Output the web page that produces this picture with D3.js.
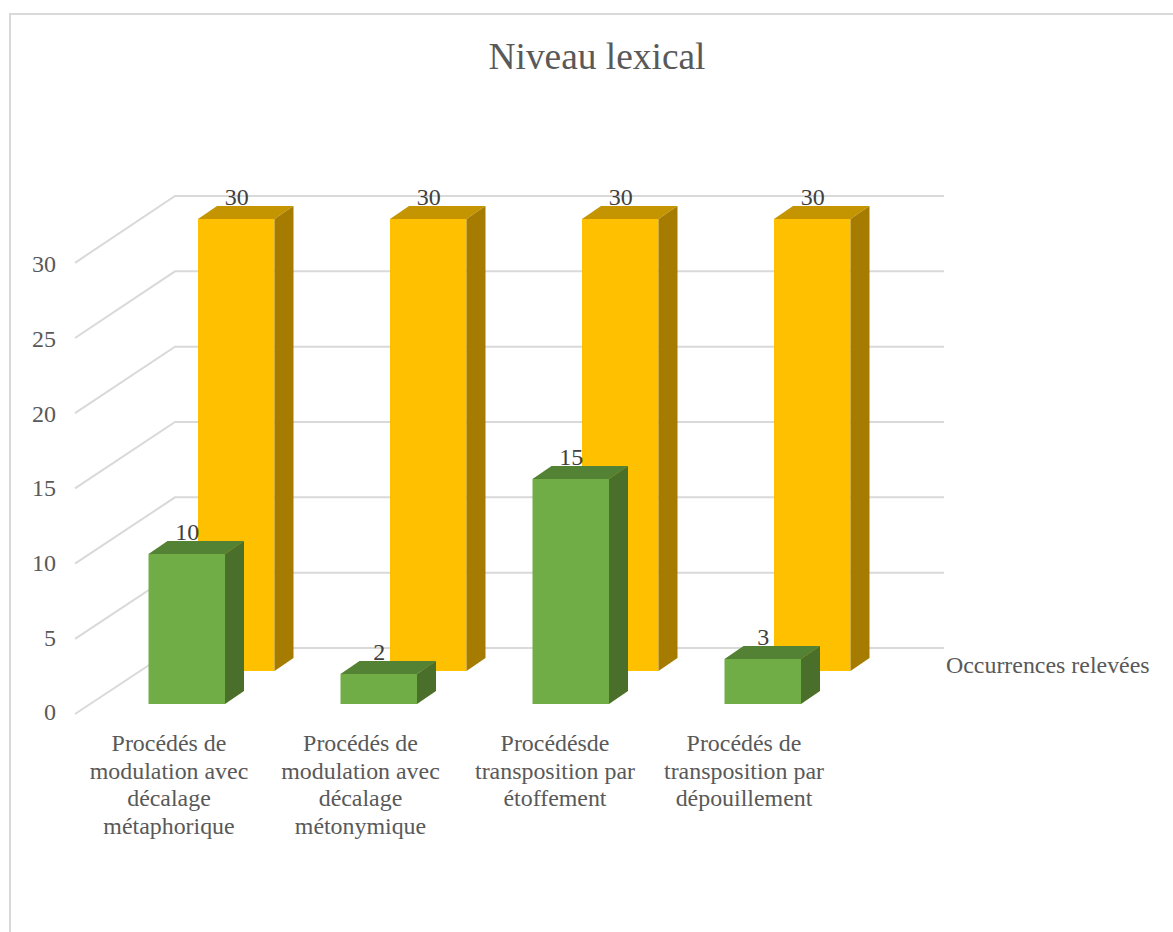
<!DOCTYPE html>
<html><head><meta charset="utf-8">
<script src="https://cdn.jsdelivr.net/npm/d3@7"></script>
<style>html,body{margin:0;padding:0;background:#fff}svg{display:block}text{font-family:"Liberation Serif",serif}</style>
</head><body><div id="c"></div>
<script>
const categories = [
  ["Procédés de","modulation avec","décalage","métaphorique"],
  ["Procédés de","modulation avec","décalage","métonymique"],
  ["Procédésde","transposition par","étoffement"],
  ["Procédés de","transposition par","dépouillement"]
];
const frontValues = [10, 2, 15, 3];
const backValues = [30, 30, 30, 30];
const yTicks = [0, 5, 10, 15, 20, 25, 30];
const titleText = "Niveau lexical";
const seriesName = "Occurrences relevées";

const W = 1173, H = 932;
const svg = d3.select("#c").append("svg").attr("width", W).attr("height", H);

// outer frame
svg.append("path").attr("d", "M10,932V14H1173").attr("fill","none").attr("stroke","#d9d9d9").attr("stroke-width",2);

svg.append("text").attr("x",597).attr("y",69).attr("text-anchor","middle")
  .attr("font-size",37.4).attr("fill","#595959").text(titleText);

const yFront = d3.scaleLinear().domain([0,30]).range([704,254]);   // front row base
const yBack = d3.scaleLinear().domain([0,30]).range([671,219]);
const dx = 19, dy = -13;           // bar depth offset
const yWallFront = d3.scaleLinear().domain([0,30]).range([714,262.8]);
const yWallBack = d3.scaleLinear().domain([0,30]).range([648,196]);
const wall = {xf:75, xb:175, xr:944};

// gridlines
svg.append("g").selectAll("path").data(yTicks).join("path")
  .attr("fill","none").attr("stroke","#d9d9d9").attr("stroke-width",2)
  .attr("d", t => `M${wall.xf},${yWallFront(t)}L${wall.xb},${yWallBack(t)}H${wall.xr}`);

// value axis labels
const axisScale = d3.scaleLinear().domain([0,30]).range([712,264]);
const axisG = svg.append("g").attr("transform","translate(56,0)")
  .call(d3.axisLeft(axisScale).tickValues(yTicks).tickSize(0).tickPadding(0).tickFormat(d3.format("d")));
axisG.select(".domain").remove();
axisG.selectAll("text").attr("font-size",24).attr("fill","#595959").style("font-family",'"Liberation Serif",serif');

const xBand = d3.scaleBand().domain(d3.range(4)).range([148.5,916.5]).paddingInner(0).paddingOuter(0);
const barW = 76.5;
const gap = 49.5;   // x offset of the back row from the front row

function bars(values, x0, y, front, top, side){
  const g = svg.append("g");
  const b = g.selectAll("g").data(values).join("g");
  const X = (d,i)=> xBand(i)+x0;
  b.append("rect").attr("x",X).attr("y",d=>y(d)).attr("width",barW).attr("height",d=>y(0)-y(d)).attr("fill",front);
  b.append("path").attr("fill",top).attr("d",(d,i)=>{const x=X(d,i),t=y(d);
    return `M${x},${t}l${dx},${dy}h${barW}l${-dx},${-dy}z`;});
  b.append("path").attr("fill",side).attr("d",(d,i)=>{const x=X(d,i)+barW,t=y(d);
    return `M${x},${t}l${dx},${dy}V${y(0)+dy}l${-dx},${-dy}z`;});
}
bars(backValues, gap, yBack, "#ffc000", "#c49500", "#a67c00");
bars(frontValues, 0, yFront, "#70ad47", "#548235", "#4a6f2b");

function labels(values, x0, y){
  svg.append("g").selectAll("text").data(values).join("text")
    .attr("x",(d,i)=>xBand(i)+x0+barW/2+0.5)
    .attr("y",d=>y(d)-14)
    .attr("text-anchor","middle").attr("font-size",24).attr("fill","#404040").text(d=>d);
}
labels(backValues, gap, yBack);
labels(frontValues, 0, yFront);

// category labels
const catX = d3.scalePoint().domain(d3.range(4)).range([169,745]);
const cat = svg.append("g").selectAll("text").data(categories).join("text")
  .attr("text-anchor","middle").attr("font-size",23.9).attr("fill","#595959");
cat.selectAll("tspan").data((d,i)=>d.map(s=>({s,i}))).join("tspan")
  .attr("x",d=>catX(d.i)+(d.i===2?2:(d.i===3?-1:(d.i===1?-0.5:0))))
  .attr("y",(d,j)=>751+j*27.7)
  .text(d=>d.s);

svg.append("text").attr("x",946).attr("y",673).attr("font-size",23.9).attr("fill","#595959").text(seriesName);
</script></body></html>
